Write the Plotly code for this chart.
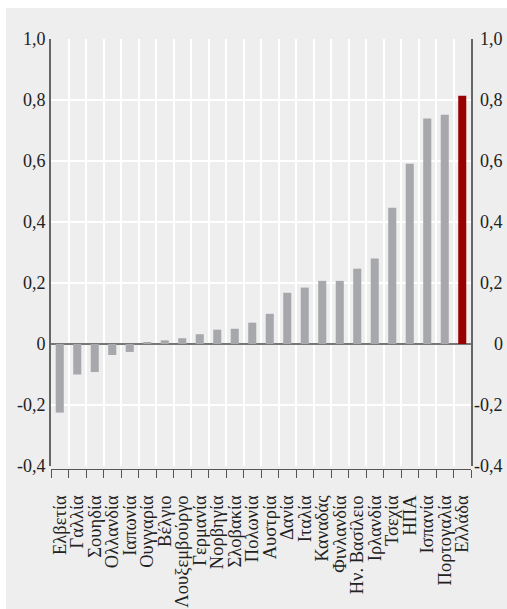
import plotly.graph_objects as go

countries = ["Ελβετία", "Γαλλία", "Σουηδία", "Ολλανδία", "Ιαπωνία", "Ουγγαρία",
             "Βέλγιο", "Λουξεμβούργο", "Γερμανία", "Νορβηγία", "Σλοβακία", "Πολωνία",
             "Αυστρία", "Δανία", "Ιταλία", "Καναδάς", "Φινλανδία", "Ην. Βασίλειο",
             "Ιρλανδία", "Τσεχία", "ΗΠΑ", "Ισπανία", "Πορτογαλία", "Ελλάδα"]
values = [-0.225, -0.10, -0.092, -0.036, -0.026, 0.005,
          0.012, 0.019, 0.032, 0.047, 0.050, 0.070,
          0.099, 0.168, 0.185, 0.207, 0.207, 0.247,
          0.280, 0.447, 0.591, 0.739, 0.752, 0.814]
highlight = "Ελλάδα"
tick_vals = [-0.4, -0.2, 0, 0.2, 0.4, 0.6, 0.8, 1.0]
tick_text = ["-0,4", "-0,2", "0", "0,2", "0,4", "0,6", "0,8", "1,0"]

GRAY_BAR = "#a7a8ab"
RED_BAR = "#990000"
BG = "#eeeeee"
FONT = "Liberation Serif, DejaVu Serif, serif"

colors = [RED_BAR if c == highlight else GRAY_BAR for c in countries]

fig = go.Figure()
fig.add_trace(go.Bar(x=countries, y=values, marker=dict(color=colors, line=dict(width=0)),
                     width=0.46, showlegend=False, hoverinfo="x+y"))

W, H = 507, 609
L, R, T, B = 51, 36, 39, 140
pw, ph = W - L - R, H - T - B


def px_x(p):
    return (p - L) / pw


def px_y(p):
    return (H - B - p) / ph


# gray panel with a thin white border at the top and left
fig.add_shape(type="rect", xref="paper", yref="paper",
              x0=px_x(6), x1=px_x(W + 4), y0=px_y(H + 4), y1=px_y(8),
              fillcolor=BG, line=dict(width=0), layer="below")

# right-hand tick labels (right aligned, as in the original)
for v, t in zip(tick_vals, tick_text):
    fig.add_annotation(x=px_x(505), xref="paper", y=v, yref="y", text=t,
                       showarrow=False, xanchor="right", yanchor="middle",
                       font=dict(family=FONT, size=18, color="#222222"))

fig.update_layout(
    width=W, height=H,
    margin=dict(l=L, r=R, t=T, b=B, autoexpand=False),
    paper_bgcolor="white",
    plot_bgcolor=BG,
    font=dict(family=FONT, color="#222222"),
    xaxis=dict(type="category", tickangle=-90, tickson="boundaries",
               tickmode="array", tickvals=countries, ticktext=countries,
               ticks="outside", ticklen=8, tickcolor="#555555", tickwidth=1,
               showline=True, linecolor="#555555", linewidth=1,
               showgrid=True, gridcolor="white", gridwidth=2,
               anchor="free", position=0, automargin=False,
               ticklabelstandoff=18,
               tickfont=dict(family=FONT, size=18.5, color="#222222"),
               range=[-0.5, len(countries) - 0.5], fixedrange=True),
    yaxis=dict(domain=[3 / ph, 1], range=[-0.4, 1.0],
               tickvals=tick_vals, ticktext=tick_text,
               zeroline=True, zerolinecolor="#777777", zerolinewidth=2,
               showgrid=True, gridcolor="white", gridwidth=2,
               showline=True, mirror=True, linecolor="#666666", linewidth=2,
               ticks="", automargin=False, ticklabelstandoff=0,
               tickfont=dict(family=FONT, size=18, color="#222222"),
               fixedrange=True),
    bargap=0.54,
)

fig.write_html(
    "out.html",
    config={"displayModeBar": False},
    post_script="document.body.style.margin='0px';"
                "document.documentElement.style.overflow='hidden';",
)
